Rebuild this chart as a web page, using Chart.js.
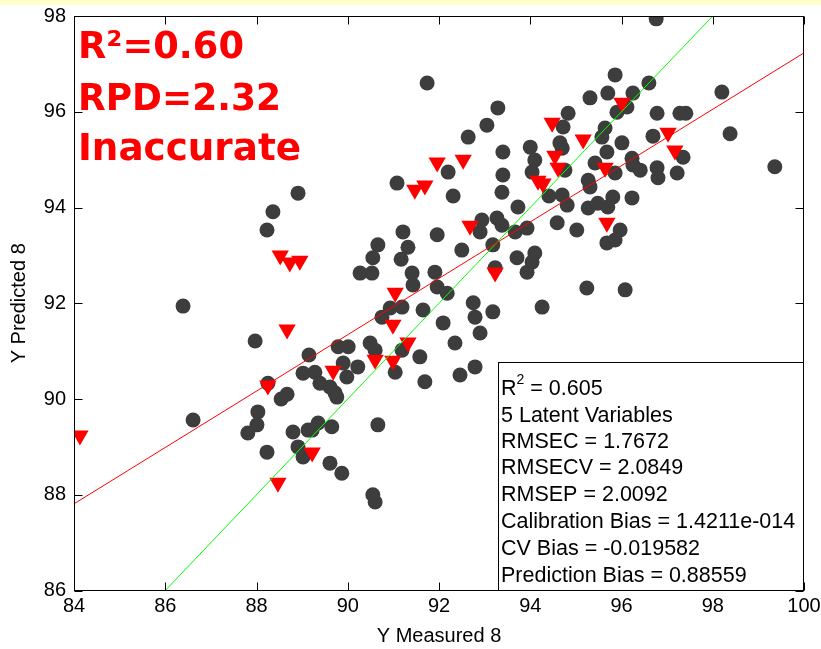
<!DOCTYPE html>
<html>
<head>
<meta charset="utf-8">
<script src="https://cdn.jsdelivr.net/npm/chart.js@4.4.1/dist/chart.umd.min.js"></script>
<style>
html,body{margin:0;padding:0;background:#fff;}
canvas{display:block;}
</style>
</head>
<body>
<canvas id="c" width="821" height="649"></canvas>
<script>
// ---- data ----
const calX = [86.39,86.61,87.97,88.03,88.01,87.81,88.23,88.23,88.36,88.91,88.25,88.54,88.67,88.80,89.13,88.91,89.02,89.15,89.02,89.28,89.39,89.61,89.72,89.76,89.79,90.01,89.90,90.22,89.98,90.49,90.60,91.19,91.58,91.04,91.69,92.46,92.79,89.35,89.22,89.65,89.61,89.87,90.55,90.60,90.66,90.93,90.75,91.19,91.65,92.09,92.75,92.79,93.18,92.90,92.35,90.27,90.53,91.41,91.43,91.91,91.96,92.18,93.23,90.66,90.55,91.21,91.32,91.17,91.96,92.50,92.94,92.90,93.27,93.38,93.18,91.08,92.31,93.38,91.74,92.64,93.05,92.20,96.76,95.86,96.60,95.70,96.25,95.31,96.12,95.90,98.20,93.29,94.83,96.78,97.28,97.41,94.72,95.64,95.57,96.69,98.38,94.65,94.70,96.01,94.00,93.40,97.35,95.68,94.10,96.23,96.25,96.41,96.78,96.80,97.22,99.36,95.42,95.86,94.76,94.04,93.40,95.27,95.31,94.41,94.70,95.81,96.23,93.73,95.27,95.48,95.70,94.81,94.59,95.02,95.97,95.86,95.68,93.93,93.67,94.10,94.04,93.93,93.71,95.24,96.08,94.26];
const calY = [91.94,89.56,91.21,89.73,89.46,89.29,88.89,93.53,93.91,94.30,90.33,90.00,90.10,89.31,89.35,89.00,88.79,90.92,90.54,90.56,90.33,90.25,90.13,90.04,91.09,91.09,90.75,90.67,90.46,91.17,91.02,91.02,90.88,90.56,90.36,90.50,90.67,89.50,89.35,89.42,88.66,88.45,88.00,87.85,89.46,91.90,91.71,91.92,91.86,91.59,92.01,91.71,91.82,91.38,91.17,92.63,92.63,92.63,92.38,92.65,92.34,92.21,92.74,93.22,92.95,93.49,93.17,92.92,93.43,93.11,93.74,93.49,93.78,93.63,93.22,94.51,94.24,94.32,96.60,95.47,95.72,94.74,97.94,96.77,96.60,96.39,96.39,96.29,96.10,95.99,96.41,96.08,95.97,95.97,95.97,95.97,95.68,95.66,95.47,95.49,95.54,95.35,95.24,95.35,95.26,95.16,95.05,95.16,94.99,95.03,94.89,94.78,94.83,94.62,94.72,94.85,94.93,94.72,94.78,94.74,94.68,94.57,94.43,94.24,94.26,94.22,94.20,94.01,93.99,94.09,94.01,94.05,93.68,93.53,93.53,93.32,93.26,93.57,93.49,93.05,92.86,92.65,92.95,92.32,92.28,91.92];
const predX = [84.13,88.25,88.47,88.52,88.73,88.95,88.67,89.22,89.68,90.60,90.99,90.99,91.04,91.32,91.47,91.69,91.96,92.53,92.68,93.23,94.17,94.28,94.48,94.54,94.61,95.16,95.64,95.68,96.01,97.02,97.17];
const predY = [89.24,90.28,88.25,93.00,92.85,92.89,91.45,88.88,90.59,90.82,90.80,91.55,92.22,91.18,94.37,94.46,94.94,95.00,93.62,92.64,94.56,94.50,95.77,95.08,94.83,95.42,94.83,93.68,96.19,95.56,95.19];
const fitLineX = [84, 100];
const fitLineY = [87.81, 97.23];
const idealLineX = [86, 98];
const idealLineY = [86, 98];
const xTicks = [84,86,88,90,92,94,96,98,100];
const yTicks = [86,88,90,92,94,96,98];
const xTitle = 'Y Measured 8';
const yTitle = 'Y Predicted 8';
const bigLabels = ['R\u00B2=0.60', 'RPD=2.32', 'Inaccurate'];
const statsFirst = ['R', '2', ' = 0.605'];
const statsLines = ['5 Latent Variables','RMSEC = 1.7672','RMSECV = 2.0849','RMSEP = 2.0092','Calibration Bias = 1.4211e-014','CV Bias = -0.019582','Prediction Bias = 0.88559'];

const zip = (xs, ys) => xs.map((x, i) => ({x: x, y: ys[i]}));
const AXFONT = "'Liberation Sans', Arial, sans-serif";

const decorPlugin = {
  id: 'decor',
  beforeDraw(chart) {
    const ctx = chart.ctx;
    ctx.save();
    ctx.fillStyle = '#ffffff';
    ctx.fillRect(0, 0, chart.width, chart.height);
    ctx.fillStyle = '#ffffcc';
    ctx.fillRect(0, 0, chart.width, 5);
    ctx.restore();
  },
  afterDraw(chart) {
    const ctx = chart.ctx;
    const a = chart.chartArea;
    const xs = chart.scales.x, ys = chart.scales.y;
    const L = Math.round(a.left) + 0.5, R = Math.round(a.right) - 0.5;
    const T = Math.round(a.top) + 0.5, B = Math.round(a.bottom) - 0.5;
    ctx.save();
    ctx.strokeStyle = '#000';
    ctx.lineWidth = 1;
    ctx.beginPath();
    const tl = 8;
    xTicks.forEach(v => {
      const px = Math.round(xs.getPixelForValue(v)) + 0.5;
      ctx.moveTo(px, B); ctx.lineTo(px, B - tl);
      ctx.moveTo(px, T); ctx.lineTo(px, T + tl);
    });
    yTicks.forEach(v => {
      const py = Math.round(ys.getPixelForValue(v)) + 0.5;
      ctx.moveTo(L, py); ctx.lineTo(L + tl, py);
      ctx.moveTo(R, py); ctx.lineTo(R - tl, py);
    });
    ctx.stroke();
    ctx.strokeRect(L, T, R - L, B - T);

    // stats box
    const bx = 498.5, by = 362.5;
    ctx.fillStyle = '#fff';
    ctx.fillRect(bx, by, R - bx, B - by);
    ctx.strokeRect(bx, by, R - bx, B - by);
    ctx.fillStyle = '#000';
    ctx.textBaseline = 'alphabetic';
    ctx.textAlign = 'left';
    // first line with superscript
    ctx.font = "21.5px " + AXFONT;
    let cx = 501;
    ctx.fillText(statsFirst[0], cx, 395);
    cx += ctx.measureText(statsFirst[0]).width;
    ctx.font = "14px " + AXFONT;
    ctx.fillText(statsFirst[1], cx, 384);
    cx += ctx.measureText(statsFirst[1]).width;
    ctx.font = "21.5px " + AXFONT;
    ctx.fillText(statsFirst[2], cx, 395);
    const base = [422, 448, 474, 501, 528, 555, 582];
    statsLines.forEach((s, i) => ctx.fillText(s, 501, base[i], R - 503));

    // big red labels
    ctx.fillStyle = '#ff0000';
    ctx.font = "bold 38px 'Comic Sans MS', 'DejaVu Sans', sans-serif";
    const bb = [58, 110, 160];
    const bw = [166, 203, 223];
    bigLabels.forEach((s, i) => ctx.fillText(s, 78, bb[i], bw[i]));
    ctx.restore();
  }
};

new Chart(document.getElementById('c'), {
  type: 'scatter',
  data: {
    datasets: [
      {
        label: 'fit', type: 'line', data: zip(fitLineX, fitLineY),
        borderColor: '#ff0000', borderWidth: 1, pointRadius: 0, fill: false, order: 0
      },
      {
        label: 'ideal', type: 'line', data: zip(idealLineX, idealLineY),
        borderColor: '#00ff00', borderWidth: 1, pointRadius: 0, fill: false, order: 0
      },
      {
        label: 'prediction', data: zip(predX, predY),
        pointStyle: 'triangle', rotation: 180, pointRadius: 10,
        backgroundColor: '#ff0000', borderColor: '#ff0000', borderWidth: 0, order: 1
      },
      {
        label: 'calibration', data: zip(calX, calY),
        pointStyle: 'circle', pointRadius: 7.5,
        backgroundColor: '#3d3d3d', borderColor: '#3d3d3d', borderWidth: 0, order: 2
      }
    ]
  },
  options: {
    responsive: false,
    animation: false,
    events: [],
    layout: { padding: { left: 0, top: 16, right: 17, bottom: 0 } },
    plugins: { legend: { display: false }, tooltip: { enabled: false } },
    scales: {
      x: {
        type: 'linear', min: 84, max: 100,
        afterFit(s) { s.height = 58.5; s.paddingLeft = 0; s.paddingRight = 0; },
        afterBuildTicks(s) { s.ticks = xTicks.map(v => ({value: v})); },
        grid: { display: false, drawTicks: false },
        border: { display: false },
        ticks: { color: '#000', padding: 4, font: { family: AXFONT, size: 20 }, maxRotation: 0 },
        title: { display: true, text: xTitle, color: '#000', font: { family: AXFONT, size: 20 }, padding: { top: 0, bottom: 1 } }
      },
      y: {
        type: 'linear', min: 86, max: 98,
        afterFit(s) { s.width = 74; s.paddingTop = 0; s.paddingBottom = 0; },
        afterBuildTicks(s) { s.ticks = yTicks.map(v => ({value: v})); },
        grid: { display: false, drawTicks: false },
        border: { display: false },
        ticks: { color: '#000', padding: 8, font: { family: AXFONT, size: 20 } },
        title: { display: true, text: yTitle, color: '#000', font: { family: AXFONT, size: 20 }, padding: { top: 7, bottom: 0 } }
      }
    }
  },
  plugins: [decorPlugin]
});
</script>
</body>
</html>
